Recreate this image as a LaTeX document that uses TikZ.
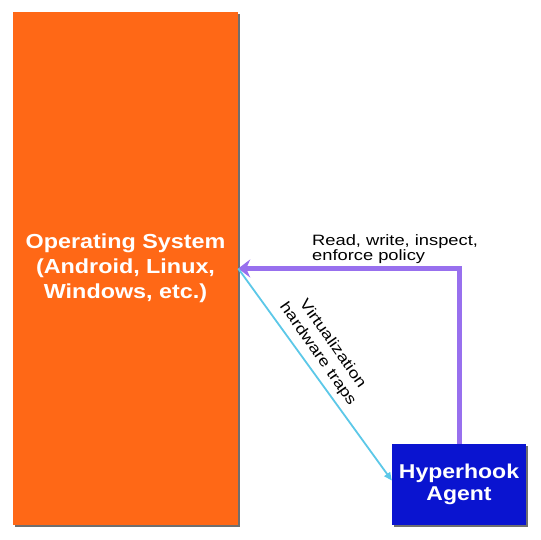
\documentclass[tikz,border=0pt]{standalone}
\usepackage{fontspec}
\setmainfont{Liberation Sans}
\newfontfamily\wide[FakeStretch=1.15]{Liberation Sans}
\newfontfamily\wider[FakeStretch=1.22]{Liberation Sans}
\usetikzlibrary{arrows.meta,shadows}
\definecolor{osorange}{RGB}{255,104,22}
\definecolor{agentblue}{RGB}{10,20,208}
\definecolor{ctlpurple}{RGB}{152,112,238}
\definecolor{trapcyan}{RGB}{92,200,232}
\tikzset{
  box/.style={draw=none, inner sep=0pt, text=white, align=center,
    drop shadow={shadow xshift=2pt, shadow yshift=-2pt, fill=black!70, opacity=0.8}},
  lbl/.style={inner sep=0pt, align=left, text=black}
}
\begin{document}
\begin{tikzpicture}[x=1pt,y=-1pt]
\useasboundingbox[fill=white] (0,0) rectangle (540,540);
\node[box, fill=osorange, minimum width=225pt, minimum height=513pt,
  font=\wide\bfseries\fontsize{20.3}{25}\selectfont] (os) at (125.5,268.5)
  {Operating System\\(Android, Linux,\\Windows, etc.)};
\node[box, fill=agentblue, minimum width=134pt, minimum height=81pt,
  font=\wide\bfseries\fontsize{20}{22}\selectfont] (agent) at (459,484.5)
  {Hyperhook\\Agent};
\coordinate (tip) at (os.east);
\draw[ctlpurple, line width=5pt, -{Stealth[length=12pt,width=18pt,inset=4pt]}]
  (agent.north) |- (tip);
\draw[trapcyan, line width=1.8pt, -{Triangle[length=8pt,width=7pt]}]
  (tip) -- ([yshift=4pt]agent.west);
\node[lbl, anchor=base west, font=\wider\fontsize{15}{15}\selectfont] (l1) at (312,260.5)
  {enforce policy};
\node[lbl, anchor=base west, font=\wider\fontsize{15}{15}\selectfont] (l0) at (312,245.5)
  {Read, write, inspect,};
\node[lbl, align=center, rotate=-55, font=\wider\fontsize{15}{18}\selectfont] (l2) at (325,349)
  {Virtualization\\hardware traps};
\end{tikzpicture}
\end{document}
